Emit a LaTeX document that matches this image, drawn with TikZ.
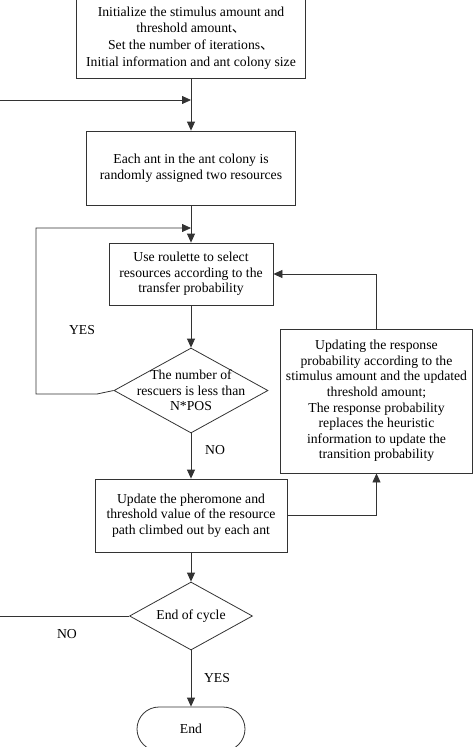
\documentclass[tikz,border=0pt]{standalone}
\usepackage{fontspec}
\setmainfont{Liberation Serif}
\newfontfamily\cjkfont{Noto Sans CJK SC}
\usetikzlibrary{arrows.meta,shapes.geometric,shapes.misc}
\begin{document}
\begin{tikzpicture}[x=1pt,y=-1pt,
  every node/.style={font=\fontsize{13.7}{15.6}\selectfont},
  box/.style={draw=black!80, line width=0.8pt, inner sep=0pt, align=center},
  dia/.style={draw=black!80, line width=0.8pt, shape=diamond, inner sep=0pt},
  term/.style={draw=black!80, line width=0.8pt, shape=rounded rectangle, inner sep=0pt},
  lbl/.style={inner sep=0pt},
  conn/.style={draw=black!80, line width=0.8pt},
  arr/.style={conn, -{Triangle[length=9pt,width=8pt]}}
]
\useasboundingbox (0,0) rectangle (473,747);
\clip (0,0) rectangle (473,747);

\node[box, minimum width=229, minimum height=80, font=\fontsize{13.7}{16.7}\selectfont] (init) at (191,38)
  {Initialize the stimulus amount and\\ threshold amount{\cjkfont 、}\\ Set the number of iterations{\cjkfont 、}\\ Initial information and ant colony size};
\node[box, minimum width=209, minimum height=74] (each) at (191,168)
  {Each ant in the ant colony is\\ randomly assigned two resources};
\node[box, minimum width=164, minimum height=62] (roul) at (191,274)
  {Use roulette to select\\ resources according to the\\ transfer probability};
\node[dia, minimum width=154, minimum height=85] (d1) at (191,390.5) {};
\node[lbl, align=center] (d1t) at (d1.center) {The number of\\ rescuers is less than\\ N*POS};
\node[box, minimum width=192, minimum height=73] (upd) at (191,515.5)
  {Update the pheromone and\\ threshold value of the resource\\ path climbed out by each ant};
\node[box, minimum width=192, minimum height=144] (resp) at (376.5,401)
  {Updating the response\\ probability according to the\\ stimulus amount and the updated\\ threshold amount;\\ The response probability\\ replaces the heuristic\\ information to update the\\ transition probability};
\node[dia, minimum width=123, minimum height=68] (d2) at (191,616) {};
\node[lbl] (d2t) at (d2.center) {End of cycle};
\node[term, minimum width=108, minimum height=44] (end) at (191,729) {End};

\node[lbl] (yes1) at (82,330) {YES};
\node[lbl] (no1) at (215,450) {NO};
\node[lbl] (no2) at (67,634) {NO};
\node[lbl] (yes2) at (217,678) {YES};

\coordinate (j1) at (191,100);
\coordinate (l1) at (-2,100);
\coordinate (j2) at (191,228);
\coordinate (c1) at (97,394);
\coordinate (c2) at (36,394);
\coordinate (c3) at (36,228);
\coordinate (l2) at (-2,616);

\draw[arr] (init.south) -- (each.north);
\draw[arr] (l1) -- (j1);
\draw[arr] (each.south) -- (roul.north);
\draw[arr] (d1.west) -- (c1) -- (c2) -- (c3) -- (j2);
\draw[arr] (roul.south) -- (d1.north);
\draw[arr] (d1.south) -- (upd.north);
\draw[arr] (upd.east) -| (resp.south);
\draw[arr] (resp.north) |- (roul.east);
\draw[arr] (upd.south) -- (d2.north);
\draw[conn] (d2.west) -- (l2);
\draw[arr] (d2.south) -- (end.north);
\end{tikzpicture}
\end{document}
